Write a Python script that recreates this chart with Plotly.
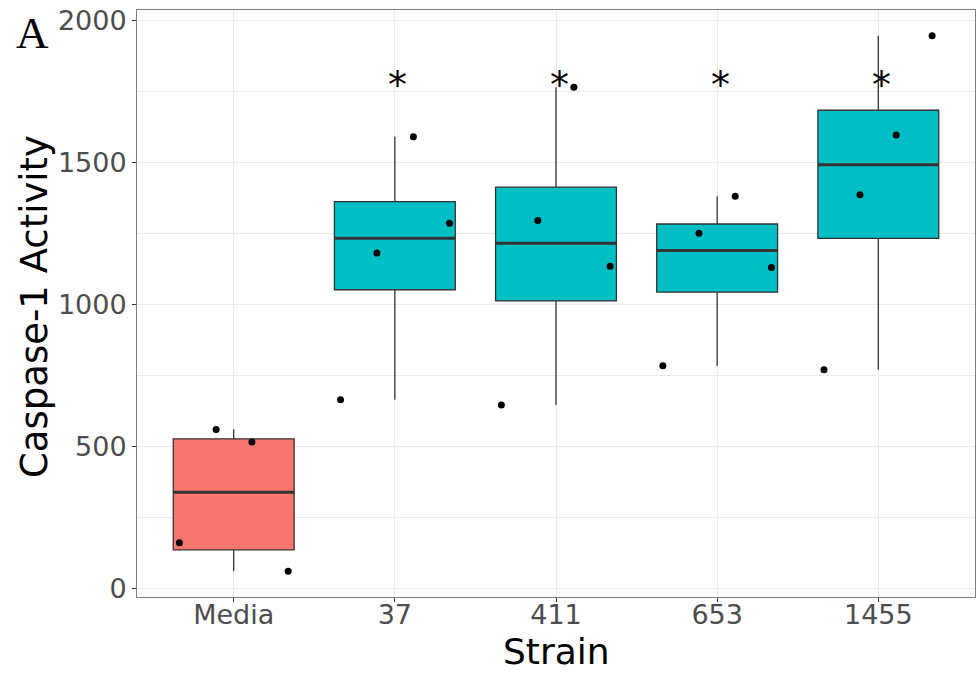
import numpy as np
import plotly.graph_objects as go

# Caspase-1 activity per strain (four replicates each)
strains = ["Media", "37", "411", "653", "1455"]
media = [59, 160, 515, 559]
strain_37 = [664, 1181, 1286, 1591]
strain_411 = [645, 1135, 1296, 1766]
strain_653 = [784, 1130, 1251, 1381]
strain_1455 = [770, 1387, 1597, 1947]
significant = [False, True, True, True, True]
star_level = 1790

# horizontal spread of the replicate dots (category units)
dot_offsets = [
    [0.338, -0.337, 0.113, -0.109],
    [-0.337, -0.111, 0.339, 0.115],
    [-0.339, 0.336, -0.113, 0.111],
    [-0.337, 0.337, -0.113, 0.112],
    [-0.337, -0.114, 0.111, 0.334],
]

groups = [media, strain_37, strain_411, strain_653, strain_1455]
fills = ["#F8766D", "#00BFC4", "#00BFC4", "#00BFC4", "#00BFC4"]
BOX_W = 0.75
OUTLINE = "#333333"
FONT = "DejaVu Sans"

fig = go.Figure()

for i, vals in enumerate(groups):
    v = np.asarray(vals, dtype=float)
    q1, med, q3 = np.percentile(v, [25, 50, 75])
    iqr = q3 - q1
    lo = v[v >= q1 - 1.5 * iqr].min()
    hi = v[v <= q3 + 1.5 * iqr].max()
    fig.add_trace(go.Box(
        x=[i], q1=[q1], median=[med], q3=[q3],
        lowerfence=[lo], upperfence=[hi],
        width=BOX_W, whiskerwidth=0,
        fillcolor=fills[i],
        line=dict(color=OUTLINE, width=1.3),
        boxpoints=False, showlegend=False, hoverinfo="skip",
    ))
    # thicker median bar
    fig.add_trace(go.Scatter(
        x=[i - BOX_W / 2, i + BOX_W / 2], y=[med, med],
        mode="lines", line=dict(color=OUTLINE, width=3),
        showlegend=False, hoverinfo="skip",
    ))

for i, vals in enumerate(groups):
    fig.add_trace(go.Scatter(
        x=[i + d for d in dot_offsets[i]], y=vals,
        mode="markers",
        marker=dict(color="black", size=7, line=dict(width=0)),
        showlegend=False,
    ))

annotations = []
for i, flag in enumerate(significant):
    if flag:
        annotations.append(dict(
            x=i, y=star_level, xref="x", yref="y", text="*",
            showarrow=False, xanchor="center", yanchor="middle",
            xshift=3, yshift=-5,
            font=dict(family=FONT, size=38, color="black"),
        ))

# plot area in pixels: left 137, right 975, top 10, bottom 597
PW, PH = 838, 587

def px_x(p):
    return (p - 137) / PW

def px_y(p):
    return (597 - p) / PH

annotations += [
    dict(text="Caspase-1 Activity", textangle=-90, xref="paper", yref="paper",
         x=px_x(34), y=px_y(307), xanchor="center", yanchor="middle",
         showarrow=False, font=dict(family=FONT, size=37, color="black")),
    dict(text="Strain", xref="paper", yref="paper",
         x=px_x(556), y=px_y(651), xanchor="center", yanchor="middle",
         showarrow=False, font=dict(family=FONT, size=36, color="black")),
    dict(text="A", xref="paper", yref="paper",
         x=px_x(14), y=px_y(33), xanchor="left", yanchor="middle",
         showarrow=False, font=dict(family="Liberation Serif", size=45, color="black")),
]

axis_common = dict(
    showgrid=True, gridcolor="#EBEBEB", gridwidth=1,
    zeroline=False, showline=True, linecolor="#7F7F7F", linewidth=1,
    mirror=True, ticks="outside", ticklen=4, tickcolor="#333333",
    tickfont=dict(family=FONT, size=27, color="#4D4D4D"),
)

fig.update_layout(
    width=976, height=675,
    margin=dict(l=137, r=1, t=10, b=78),
    paper_bgcolor="white", plot_bgcolor="white",
    xaxis=dict(range=[-0.6, 4.6], tickvals=list(range(len(strains))),
               ticktext=strains, ticklabelstandoff=-10, **axis_common),
    yaxis=dict(range=[-31.5, 2038], tickvals=[0, 500, 1000, 1500, 2000],
               minor=dict(tickvals=[250, 750, 1250, 1750], showgrid=True,
                          gridcolor="#EBEBEB", gridwidth=0.6, ticks=""),
               **axis_common),
    annotations=annotations,
)

fig.write_html("out.html")
